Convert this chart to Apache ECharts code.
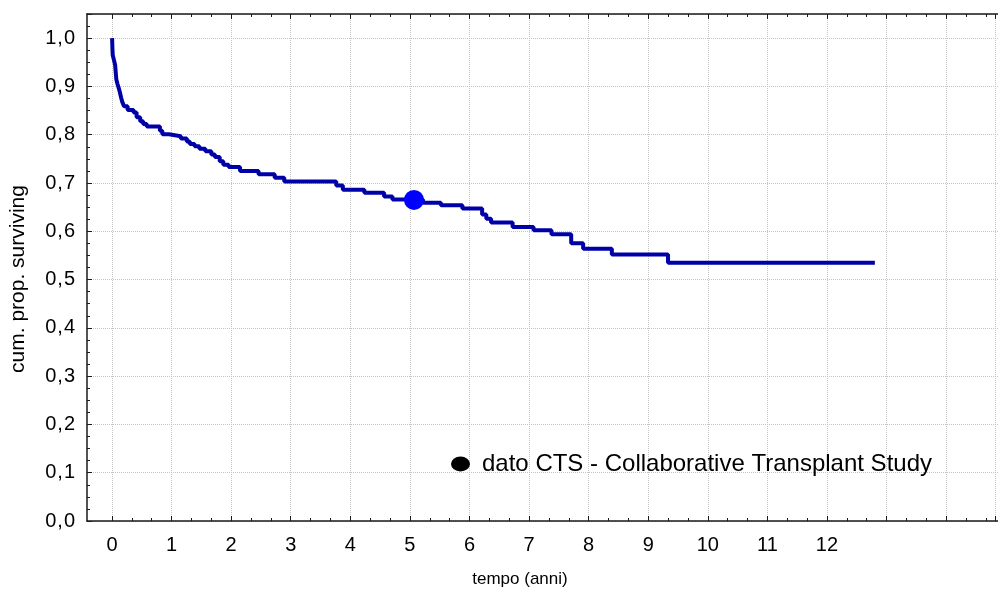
<!DOCTYPE html>
<html>
<head>
<meta charset="utf-8">
<script src="https://cdn.jsdelivr.net/npm/echarts@6/dist/echarts.min.js"></script>
<style>
  html, body { margin: 0; padding: 0; background: #ffffff; }
  #chart { width: 998px; height: 593px; }
</style>
</head>
<body>
<div id="chart"></div>
<script>
// Kaplan-Meier estimate: event times (years) and cumulative survival after each step
const timeYears = [
  0, 0.005, 0.01, 0.03, 0.05, 0.06, 0.07, 0.09, 0.11, 0.13, 0.15, 0.17, 0.2, 0.26,
  0.36, 0.41, 0.47, 0.52, 0.58, 0.8, 0.84, 0.95, 1.15, 1.25, 1.3, 1.38, 1.46, 1.56,
  1.66, 1.72, 1.8, 1.86, 1.95, 2.14, 2.45, 2.72, 2.88, 3.75, 3.86, 4.22, 4.55, 4.69,
  5.2, 5.5, 5.86, 6.19, 6.26, 6.34, 6.7, 7.05, 7.35, 7.68, 7.88, 8.36, 9.3, 12.76
];
const survival = [
  1.0, 0.98, 0.965, 0.955, 0.945, 0.93, 0.915, 0.905, 0.897, 0.888, 0.877, 0.868, 0.859, 0.851,
  0.846, 0.836, 0.828, 0.822, 0.817, 0.808, 0.801, 0.797, 0.792, 0.786, 0.781, 0.776, 0.771, 0.766,
  0.759, 0.754, 0.745, 0.738, 0.733, 0.725, 0.718, 0.711, 0.703, 0.695, 0.686, 0.680, 0.672, 0.666,
  0.659, 0.654, 0.647, 0.635, 0.626, 0.618, 0.609, 0.602, 0.594, 0.575, 0.564, 0.552, 0.535, 0.535
];

// Reference value from the Collaborative Transplant Study
const ctsName = 'dato CTS - Collaborative Transplant Study';
const ctsTime = [5.05];
const ctsValue = [0.665];

// Tick labels
const xTickLabels = ['0', '1', '2', '3', '4', '5', '6', '7', '8', '9', '10', '11', '12'];
const yTickLabels = ['0,0', '0,1', '0,2', '0,3', '0,4', '0,5', '0,6', '0,7', '0,8', '0,9', '1,0'];

const FONT = 'Liberation Sans, Arial, sans-serif';
const GRID_COLOR = '#c4c4c4';
const AXIS_COLOR = '#1a1a1a';

const curveData = timeYears.map((t, i) => [t, survival[i]]);
const ctsData = ctsTime.map((t, i) => [t, ctsValue[i]]);

// Decimal comma labels, drawn with a little air around the comma
function yLabelRich(label) {
  const parts = label.split(',');
  return '{d|' + parts[0] + '}{c|,}{d|' + parts[1] + '}';
}

const chart = echarts.init(document.getElementById('chart'), null, { renderer: 'canvas' });

const tickAxisCommon = {
  type: 'value',
  gridIndex: 1,
  min: 0,
  max: 14.82,
  interval: 1,
  axisLine: { show: false },
  axisTick: { show: true, inside: true, length: 5, lineStyle: { color: AXIS_COLOR, width: 1 } },
  minorTick: { show: true, splitNumber: 3, length: 3, lineStyle: { color: AXIS_COLOR, width: 1 } },
  minorSplitLine: { show: false }
};

const frameAxisCommon = {
  type: 'value',
  gridIndex: 0,
  min: -0.42,
  max: 14.82,
  axisLine: { show: true, onZero: false, lineStyle: { color: AXIS_COLOR, width: 1.5 } },
  axisTick: { show: false },
  axisLabel: { show: false },
  splitLine: { show: false }
};

chart.setOption({
  animation: false,
  backgroundColor: '#ffffff',
  textStyle: { fontFamily: FONT, color: '#000' },
  grid: [
    { left: 87, right: 0, top: 14, bottom: 72 },
    { left: 112, right: 0, top: 14, bottom: 72 }
  ],
  legend: {
    data: [{
      name: ctsName,
      icon: 'path://M0,7a9,7 0 1,0 18,0a9,7 0 1,0 -18,0z',
      itemStyle: { color: '#000000', opacity: 1 }
    }],
    left: 446,
    top: 447,
    itemWidth: 19,
    itemHeight: 15,
    selectedMode: false,
    textStyle: { fontFamily: FONT, fontSize: 24, color: '#000', padding: [0, 0, 0, 7] }
  },
  xAxis: [
    Object.assign({}, frameAxisCommon, {
      position: 'bottom',
      name: 'tempo (anni)',
      nameLocation: 'middle',
      nameGap: 50,
      nameTextStyle: { fontFamily: FONT, fontSize: 17, color: '#000', padding: [0, 45, 0, 0] }
    }),
    Object.assign({}, frameAxisCommon, { position: 'top' }),
    Object.assign({}, tickAxisCommon, {
      position: 'bottom',
      axisLabel: {
        show: true,
        margin: 14,
        fontFamily: FONT,
        fontSize: 20,
        color: '#000',
        formatter: (v) => (Number.isInteger(v) && v >= 0 && v < xTickLabels.length) ? xTickLabels[v] : ''
      },
      splitLine: { show: true, lineStyle: { color: GRID_COLOR, type: 'dotted', width: 1 } }
    }),
    Object.assign({}, tickAxisCommon, {
      position: 'top',
      axisLabel: { show: false },
      splitLine: { show: false }
    })
  ],
  yAxis: [
    {
      type: 'value',
      gridIndex: 0,
      min: 0,
      max: 1.05,
      interval: 0.1,
      axisLine: { show: true, onZero: false, lineStyle: { color: AXIS_COLOR, width: 1.5 } },
      axisTick: { show: true, inside: true, length: 5, lineStyle: { color: AXIS_COLOR, width: 1 } },
      minorTick: { show: true, splitNumber: 4, length: 3, lineStyle: { color: AXIS_COLOR, width: 1 } },
      axisLabel: {
        margin: 12,
        color: '#000',
        formatter: (v) => {
          const k = Math.round(v * 10);
          return Math.abs(v * 10 - k) < 1e-6 && k >= 0 && k < yTickLabels.length ? yLabelRich(yTickLabels[k]) : '';
        },
        rich: {
          d: { fontFamily: FONT, fontSize: 20, color: '#000' },
          c: { fontFamily: FONT, fontSize: 20, color: '#000', padding: [0, 1, 0, 1] }
        }
      },
      splitLine: { show: true, lineStyle: { color: GRID_COLOR, type: 'dotted', width: 1 } },
      name: 'cum. prop. surviving',
      nameLocation: 'middle',
      nameRotate: 90,
      nameGap: 58,
      nameTextStyle: { fontFamily: FONT, fontSize: 21, color: '#000', padding: [0, 23, 0, 0] }
    },
    { type: 'value', gridIndex: 1, min: 0, max: 1.05, show: false }
  ],
  series: [
    {
      name: 'Kaplan-Meier',
      type: 'line',
      xAxisIndex: 0,
      yAxisIndex: 0,
      step: 'end',
      data: curveData,
      showSymbol: false,
      symbol: 'none',
      lineStyle: { color: '#0000a8', width: 4 },
      z: 3
    },
    {
      name: ctsName,
      type: 'scatter',
      xAxisIndex: 0,
      yAxisIndex: 0,
      data: ctsData,
      symbol: 'circle',
      symbolSize: 20,
      itemStyle: { color: '#0000ff', opacity: 1 },
      z: 4
    }
  ]
});
</script>
</body>
</html>
